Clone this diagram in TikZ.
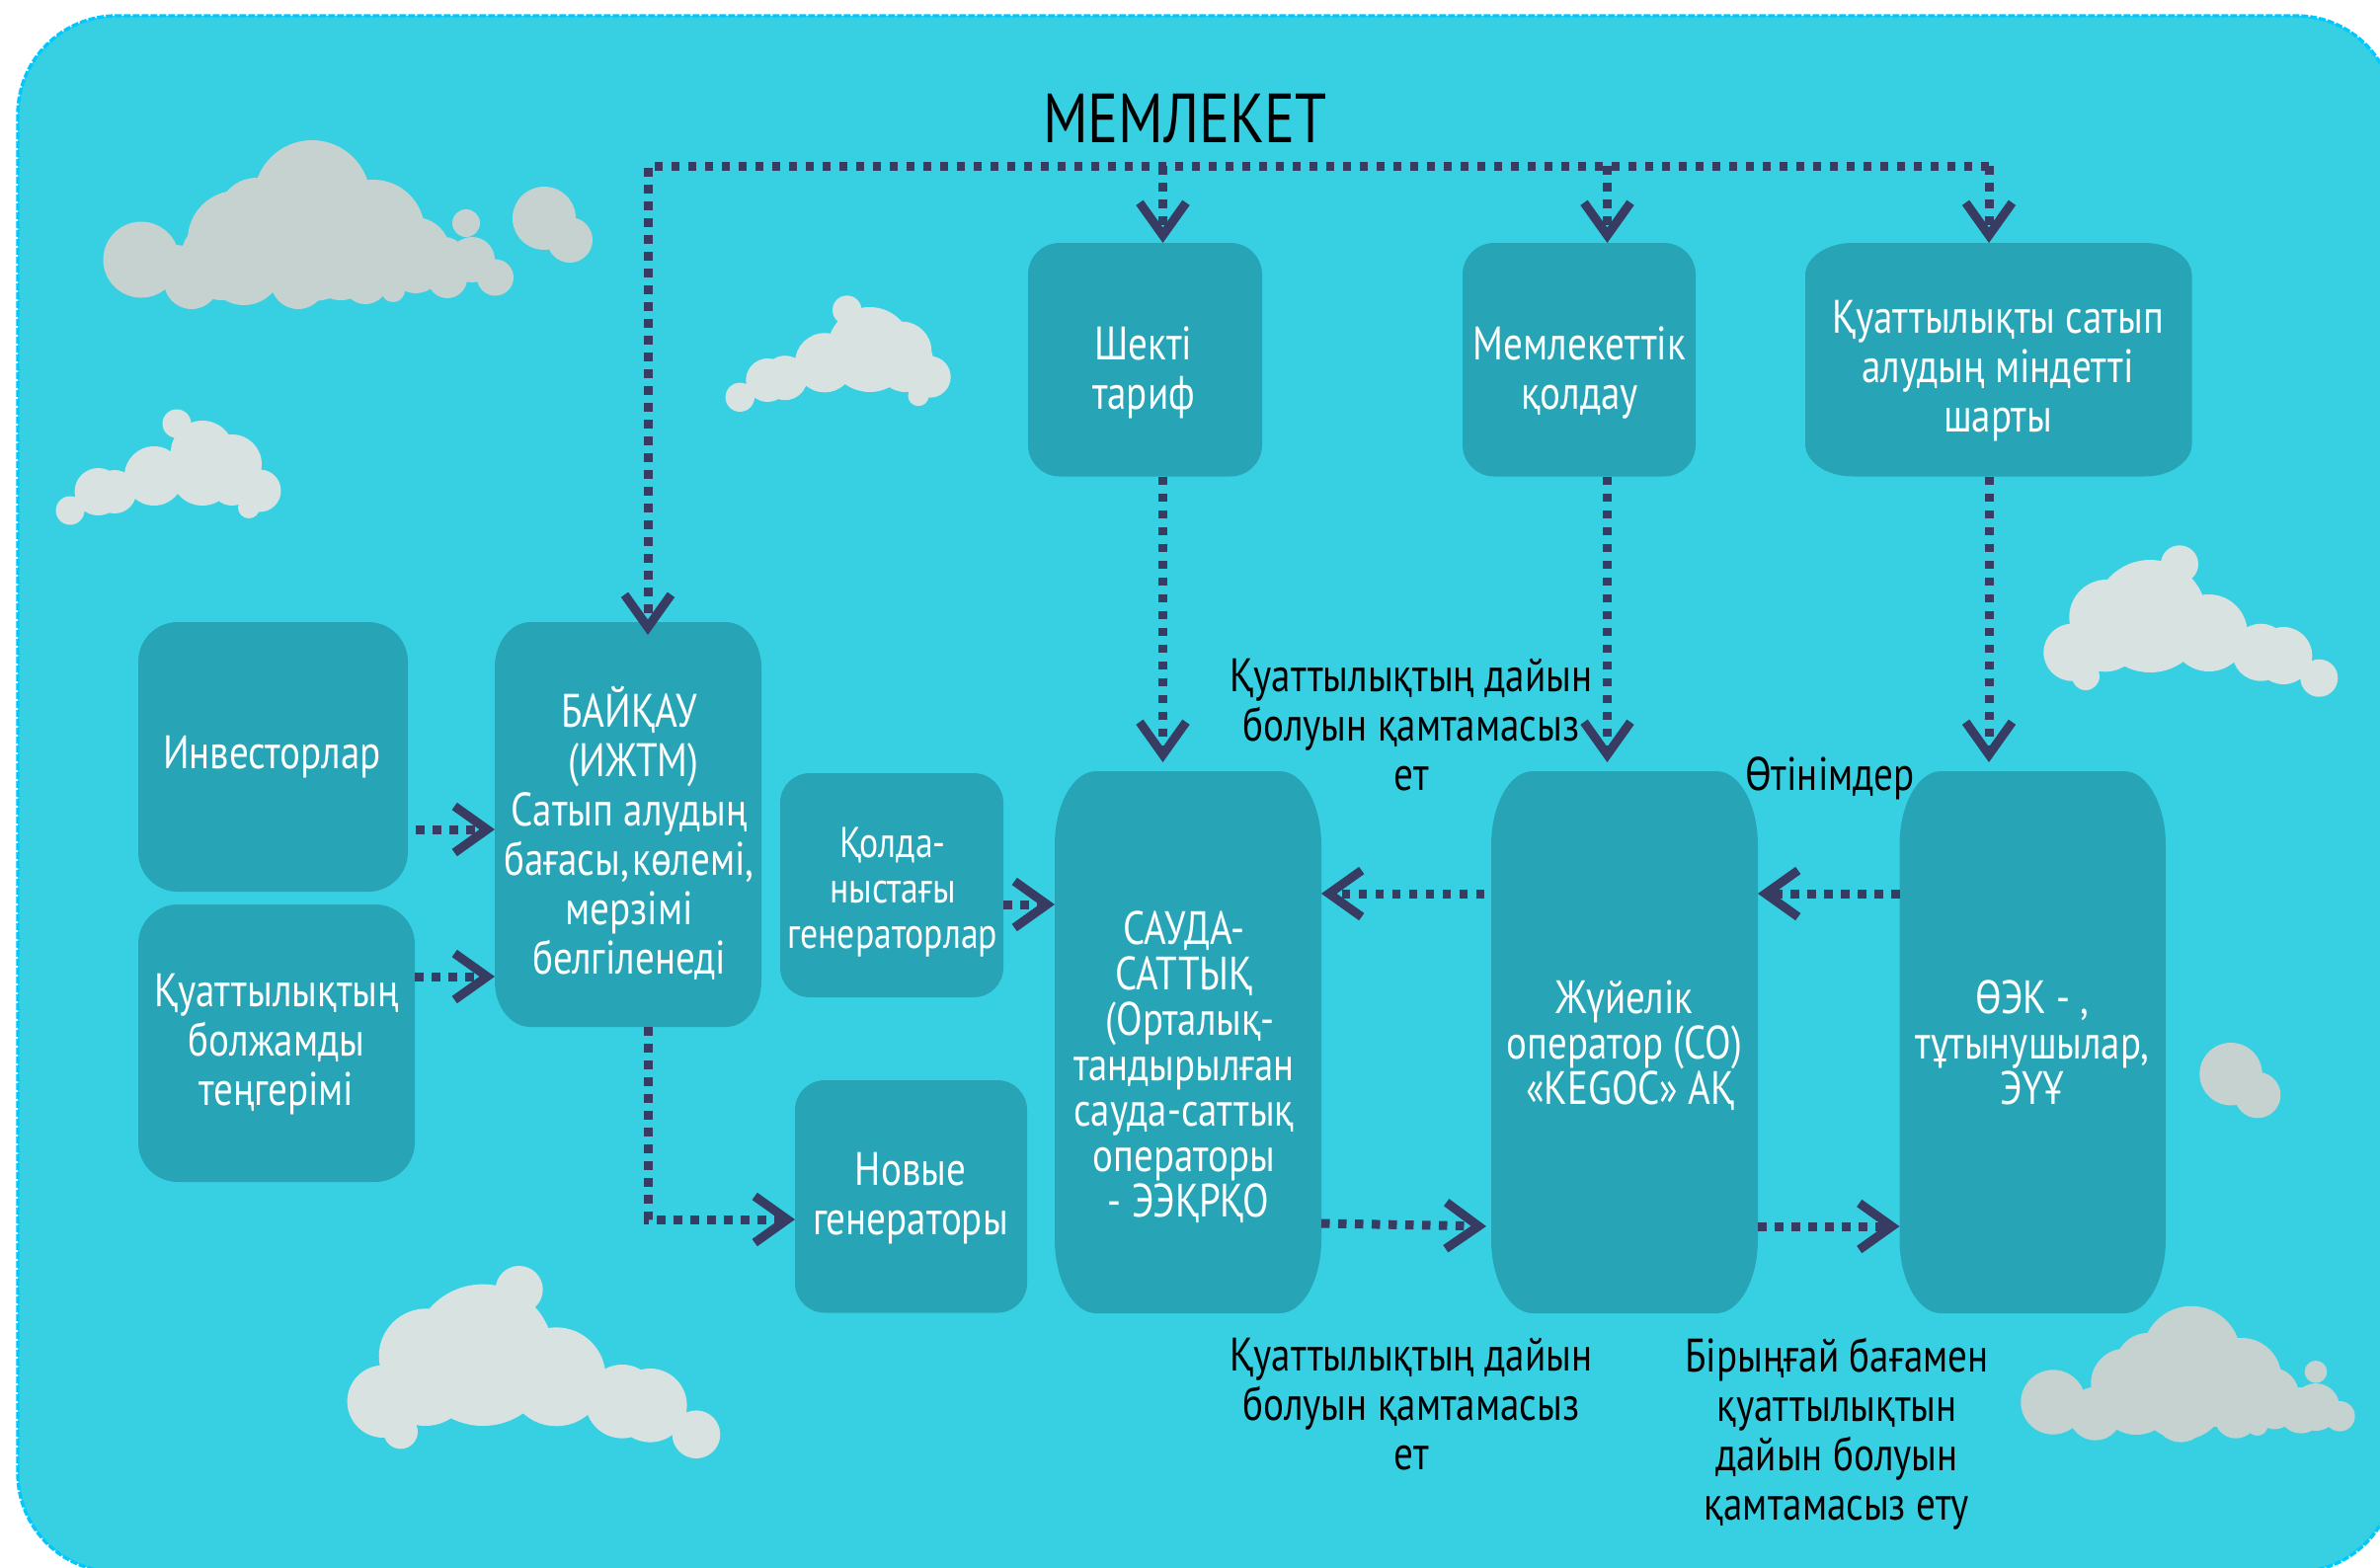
\documentclass[tikz,border=0pt]{standalone}
\usepackage{fontspec}
\setmainfont{PT Sans}[FakeStretch=0.82]
\usetikzlibrary{arrows.meta,calc}
\definecolor{skyc}{HTML}{37D0E3}
\definecolor{edgec}{HTML}{00C8FF}
\definecolor{boxc}{HTML}{27A4B6}
\definecolor{linkc}{HTML}{383B62}
\definecolor{cloudA}{HTML}{C5D2D0}
\definecolor{cloudB}{HTML}{D8E2E0}
\newcommand\fbig{\fontsize{35.2}{40}\selectfont}
\newcommand\fbody{\fontsize{23.8}{25}\selectfont}
\newcommand\fmid{\fontsize{23.7}{23}\selectfont}
\newcommand\fsmall{\fontsize{21.8}{23}\selectfont}
\tikzset{
  conn/.style={draw=linkc,line width=4.5pt,dash pattern=on 4.25pt off 4.25pt,
    -{Straight Barb[length=16.5pt,width=23.5pt,line width=4.5pt]}},
  anchorbox/.style={inner sep=0pt,outer sep=0pt},
  wtext/.style={text=white,align=center,anchor=base,inner sep=0pt,font=\fbody},
  wmid/.style={text=white,align=center,anchor=base,inner sep=0pt,font=\fmid},
  wsmall/.style={text=white,align=center,anchor=base,inner sep=0pt,font=\fsmall},
  ktext/.style={text=black,align=center,anchor=base,inner sep=0pt,font=\fbody},
}
% name x1 y1 x2 y2 rx ry
\newcommand\bx[7]{%
  \fill[boxc] ({#2+#6},#3) -- ({#4-#6},#3)
    .. controls ({#4-.4477*#6},#3) and (#4,{#3+.4477*#7}) .. (#4,{#3+#7})
    -- (#4,{#5-#7})
    .. controls (#4,{#5-.4477*#7}) and ({#4-.4477*#6},#5) .. ({#4-#6},#5)
    -- ({#2+#6},#5)
    .. controls ({#2+.4477*#6},#5) and (#2,{#5-.4477*#7}) .. (#2,{#5-#7})
    -- (#2,{#3+#7})
    .. controls (#2,{#3+.4477*#7}) and ({#2+.4477*#6},#3) .. ({#2+#6},#3) -- cycle;
  \node[anchorbox,minimum width={(#4-#2)*0.5pt},minimum height={(#5-#3)*0.5pt}] (#1) at ({(#2+#4)/2},{(#3+#5)/2}) {};
}
\newcommand\cloud[2]{\fill[#1] foreach \cx/\cy/\cr in {#2} {(\cx,\cy) circle[radius=\cr]};}
\begin{document}
\begin{tikzpicture}[x=0.5pt,y=-0.5pt]
\useasboundingbox (0,0) rectangle (2410,1587);
\clip (0,0) rectangle (2410,1587);
\fill[white] (0,0) rectangle (2410,1587);
\draw[fill=skyc,draw=edgec,line width=1.7pt,dash pattern=on 3.5pt off 1pt,rounded corners=50pt] (18,16) rectangle (2425,1592);
% clouds
\cloud{cloudA}{143/263/38.5,194/285/28,247/270/39,302/285/28,240/243/50,260/220/40,316/201/59,378/234/52,316/250/55,420/256/36,370/285/23,398/294/12,421/270/27,453/282/20,478/263/23,501.5/281/18.5,472/226/14,450/262/22,551/221/32,577/243/23,225/262/42,205/268/28,345/272/32,390/270/26,178/272/24}
\cloud{cloudB}{71/517/14.5,99.5/498/24,116/498/22,156/482/30,179/429/14.5,205/458/32,205/480/32,235/470/30,263/497/21.5,252/514/11,235/490/22}
\cloud{cloudB}{749.3/402.3/14.7,777.3/385/22,795/382.7/22.5,835/367.3/30,857.7/314/14.7,880.7/354/43,913.3/355.7/30,916.7/368/29,941.7/381.7/21,930/400.7/10.5}
\cloud{cloudB}{2348.3/686.7/19,2312.3/664/29,2289.3/660.7/29,2236.7/641/39,2207/571.3/19,2177.3/624/57,2133.3/625/38,2131.7/643.3/37,2098.3/660.7/29,2112/685/14}
\cloud{cloudA}{2259/1087.7/31.7,2286/1109/23.3}
\cloud{cloudB}{705/1452.7/24.3,658.3/1423.3/37.3,630/1419.3/37.3,563.3/1394.3/50,525.7/1306/24,489/1372.3/71.7,431.7/1373.3/48,430.7/1396/48,388.3/1419.3/36.7,405.7/1450/17.3}
\cloud{cloudA}{2079/1420/32.7,2121.7/1431.7/27,2163.3/1413/40,2152.3/1400.7/35,2175/1383/33,2219/1372.7/50,2208.3/1433.3/27.3,2270/1395/40,2300/1413/28,2345/1389.3/11.3,2345/1425/24,2369.3/1434.3/15.3,2264/1435/21.7,2285.7/1443.3/10.7,2303.3/1426.7/20.7,2330/1428.3/23.3,2210/1413/45,2240/1410/35}
% boxes
\bx{tarif}{1041}{246}{1278}{482.5}{32}{32}
\bx{support}{1481}{246}{1717}{482.5}{32}{32}
\bx{contract}{1828}{246}{2219.5}{482.5}{48}{33}
\bx{invest}{140}{630}{413}{903}{40}{40}
\bx{balance}{140}{916}{420}{1197}{40}{40}
\bx{watch}{501}{630}{771}{1040}{36}{46}
\bx{oldgen}{790}{783}{1016}{1010}{30}{30}
\bx{newgen}{805}{1094}{1040}{1329.5}{30}{30}
\bx{trade}{1068}{781}{1338}{1330}{42}{75}
\bx{sysop}{1510}{781}{1780}{1330}{42}{75}
\bx{cons}{1923.5}{781}{2193}{1330}{42}{75}
% coordinates of the bus
\coordinate (busL) at (656,168);
\coordinate (busT) at (1177.5,168);
\coordinate (busM) at (1627.5,168);
\coordinate (busR) at (2014,168);
\coordinate (newbend) at (656,1235);
% connectors
\draw[conn,shorten >=-6.5pt] (busR) -- (busL) -- (busL |- watch.north);
\draw[conn] (busT) -- (busT |- tarif.north);
\draw[conn] (busM) -- (busM |- support.north);
\draw[conn] (busR) -- (busR |- contract.north);
\draw[conn,shorten >=4.5pt] (busT |- tarif.south) -- (busT |- trade.north);
\draw[conn,shorten >=4.5pt] (busM |- support.south) -- (busM |- sysop.north);
\draw[conn,shorten >=4.5pt] (busR |- contract.south) -- (busR |- cons.north);
\draw[conn,shorten <=4pt] (invest.east |- 0,840) -- (watch.west |- 0,840);
\draw[conn] (balance.east |- 0,989) -- (watch.west |- 0,989);
\draw[conn] (oldgen.east |- 0,916) -- (trade.west |- 0,916);
\draw[conn] (busL |- watch.south) -- (newbend) -- (newgen.west |- newbend);
\draw[conn,shorten <=3.5pt] (sysop.west |- 0,905) -- (trade.east |- 0,905);
\draw[conn] (cons.west |- 0,905) -- (sysop.east |- 0,905);
\draw[conn,shorten >=2.5pt] (trade.east |- 0,1239) -- (sysop.west |- 0,1242);
\draw[conn] (sysop.east |- 0,1242) -- (cons.west |- 0,1242);
% texts (anchored on baseline)
\node[anchor=base,inner sep=0pt,font=\fbig,text=black] (state) at (1200,144) {МЕМЛЕКЕТ};
\node[wtext] (tarifT) at (1158,414) {Шекті\\тариф};
\node[wtext] (supportT) at (1599.5,414) {Мемлекеттік\\қолдау};
\node[wtext] (contractT) at (2023,437) {Қуаттылықты сатып\\алудың міндетті\\шарты};
\node[wtext] (investT) at (275.5,778) {Инвесторлар};
\node[wtext] (balanceT) at (280,1119) {Қуаттылықтың\\болжамды\\теңгерімі};
\node[wtext] (watchT) at (637,986) {БАЙҚАУ\\\hspace*{.2em}(ИЖТМ)\\Сатып алудың\\бағасы,\hspace{-.14em} көлемі,\\мерзімі\\белгіленеді};
\node[wsmall] (oldgenT) at (904,960) {Қолда-\\ныстағы\\генераторлар};
\node[wtext] (newgenT) at (922,1250) {Новые\\генераторы};
\node[wmid] (tradeT) at (1199,1232) {САУДА-\\САТТЫҚ\\\hspace*{.25em}(Орталық-\\тандырылған\\сауда-саттық\\операторы\\\hspace*{.2em}- ЭЭҚРҚО};
\node[wmid] (sysopT) at (1645,1118) {Жүйелік\\оператор (СО)\\\hspace*{.25em}«KEGOC» АҚ};
\node[wmid] (consT) at (2058,1118) {ӨЭК - ,\\тұтынушылар,\\ЭҮҰ};
\node[ktext] (readyA) at (1429,800) {Қуаттылықтың дайын\\болуын қамтамасыз\\ет};
\node[ktext] (bids) at (1853,800) {Өтінімдер};
\node[ktext] (readyB) at (1429,1488) {Қуаттылықтың дайын\\болуын қамтамасыз\\ет};
\node[ktext] (single) at (1860,1539) {Бірыңғай бағамен\\қуаттылықтын\\дайын болуын\\қамтамасыз ету};
\end{tikzpicture}
\end{document}
